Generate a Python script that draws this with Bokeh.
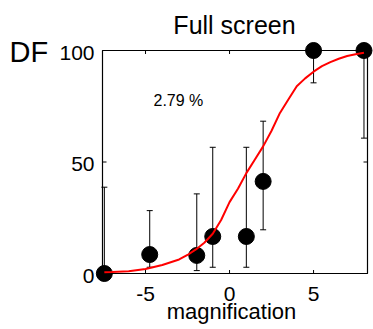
from bokeh.plotting import figure
from bokeh.models import Range1d
from bokeh.core.properties import value
from bokeh.embed import file_html
from bokeh.resources import INLINE

# ---- data ----
mag = [-7.45, -4.75, -1.95, -1.0, 1.0, 2.0, 5.0, 8.0]
df = [0, 8.5, 8.1, 16.6, 16.6, 41.3, 100, 100]
err_lo = [0, 2.8, 1.3, 2.8, 2.8, 19.6, 85.5, 60.7]
err_hi = [38.7, 28.2, 35.7, 56.6, 56.6, 68.3, 100, 100]

fit_x = [-7.45, -7, -6, -5, -4, -3, -2.5, -2, -1.5, -1, -0.5, 0, 0.5, 1, 1.5,
         2, 2.5, 3, 3.5, 4, 4.5, 5, 5.5, 6, 6.5, 7, 7.5, 8]
fit_y = [0.6, 0.7, 1.0, 2.0, 3.8, 6.3, 8.3, 10.8, 13.8, 17.8, 24, 32, 38, 45, 51,
         57, 64, 72, 78, 84, 87.5, 90.5, 93, 94.8, 96.3, 97.5, 98.3, 99]

x_ticks = [-5, 0, 5]
x_tick_labels = ["-5", "0", "5"]
y_ticks = [0, 50, 100]
y_tick_labels = ["0", "50", "100"]

title_text = "Full screen"
ylab_text = "DF"
xlab_text = "magnification"
note_text = "2.79 %"

XMIN, XMAX = -7.56, 8.21
YMIN, YMAX = 0, 100

# ---- layout (canvas pixels) ----
W, H = 373, 329
BOX_L, BOX_R, BOX_T, BOX_B = 102, 367, 50, 273
dx = (XMAX - XMIN) / (BOX_R - BOX_L)
dy = (YMAX - YMIN) / (BOX_B - BOX_T)
x0 = XMIN - BOX_L * dx
x1 = XMAX + (W - BOX_R) * dx
y1 = YMAX + BOX_T * dy
y0 = YMIN - (H - BOX_B) * dy

def X(px):
    return x0 + px * dx

def Y(py):
    return y1 - py * dy

def PY(v):
    return (y1 - v) / dy

FONT = "Liberation Sans"

p = figure(width=W, height=H, frame_width=W, frame_height=H,
           output_backend="svg", toolbar_location=None,
           x_range=Range1d(x0, x1), y_range=Range1d(y0, y1),
           min_border=0, min_border_left=0, min_border_right=0,
           min_border_top=0, min_border_bottom=0,
           x_axis_location=None, y_axis_location=None)
p.grid.visible = False
p.outline_line_color = None
p.background_fill_color = "white"
p.border_fill_color = "white"

# box
p.line([XMIN, XMAX, XMAX, XMIN, XMIN], [YMIN, YMIN, YMAX, YMAX, YMIN],
       line_color="black", line_width=1.2)

# ticks (inward)
tl_x = 3.5 * dy
p.segment(x0=x_ticks, y0=[YMIN] * 3, x1=x_ticks, y1=[YMIN + tl_x] * 3, line_color="black", line_width=1)
p.segment(x0=x_ticks, y0=[YMAX] * 3, x1=x_ticks, y1=[YMAX - tl_x] * 3, line_color="black", line_width=1)
tl_y = 4 * dx
p.segment(x0=[XMIN] * 3, y0=y_ticks, x1=[XMIN + tl_y] * 3, y1=y_ticks, line_color="black", line_width=1)
p.segment(x0=[XMAX] * 3, y0=y_ticks, x1=[XMAX - tl_y] * 3, y1=y_ticks, line_color="black", line_width=1)

# tick labels
p.text(x=x_ticks, y=[Y(BOX_B + 20.5)] * 3, text=x_tick_labels,
       text_font=value(FONT), text_font_size=value("21px"), text_color="black",
       text_align="center", text_baseline="middle")
p.text(x=[X(BOX_L - 8)] * 3, y=[Y(PY(t) + 2) for t in y_ticks], text=y_tick_labels,
       text_font=value(FONT), text_font_size=value("21px"), text_color="black",
       text_align="right", text_baseline="middle")

# error bars
cap = 3 * dx
p.segment(x0=mag, y0=err_lo, x1=mag, y1=err_hi, line_color="black", line_width=1)
p.segment(x0=[m - cap for m in mag], y0=err_lo, x1=[m + cap for m in mag], y1=err_lo,
          line_color="black", line_width=1)
p.segment(x0=[m - cap for m in mag], y0=err_hi, x1=[m + cap for m in mag], y1=err_hi,
          line_color="black", line_width=1)

# data points
p.scatter(mag, df, size=16, color="black")

# fit curve
p.line(fit_x, fit_y, line_color="red", line_width=2)

# texts
p.text(x=[X(234)], y=[Y(24.3)], text=[title_text], text_font=value(FONT),
       text_font_size=value("25px"), text_color="black", text_align="center",
       text_baseline="middle")
p.text(x=[X(9)], y=[Y(51)], text=[ylab_text], text_font=value(FONT),
       text_font_size=value("29px"), text_color="black", text_align="left",
       text_baseline="middle")
p.text(x=[X(231)], y=[Y(311)], text=[xlab_text], text_font=value(FONT),
       text_font_size=value("22px"), text_color="black", text_align="center",
       text_baseline="middle")
p.text(x=[X(153)], y=[Y(100)], text=[note_text], text_font=value(FONT),
       text_font_size=value("16px"), text_color="black", text_align="left",
       text_baseline="middle")

open("out.html", "w").write(file_html(p, INLINE))
